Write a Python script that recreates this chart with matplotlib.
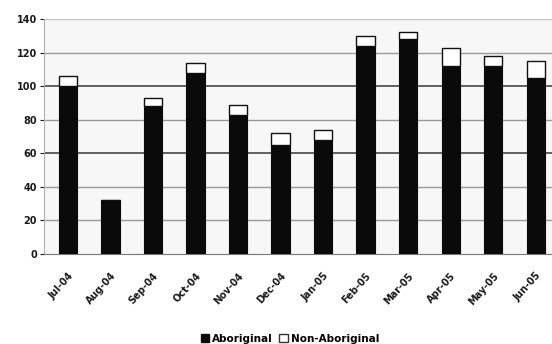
import matplotlib
matplotlib.use("Agg")
import matplotlib.pyplot as plt
from matplotlib.patches import Patch

# monthly admissions, Jul-04 to Jun-05
months = ["Jul-04", "Aug-04", "Sep-04", "Oct-04", "Nov-04", "Dec-04",
          "Jan-05", "Feb-05", "Mar-05", "Apr-05", "May-05", "Jun-05"]
aboriginal = [100, 32, 88, 108, 83, 65, 68, 124, 128, 112, 112, 105]
non_aboriginal = [6, 0, 5, 6, 6, 7, 6, 6, 4, 11, 6, 10]

y_ticks = [0, 20, 40, 60, 80, 100, 120, 140]

fig = plt.figure(figsize=(5.52, 3.44), dpi=100)
ax = fig.add_axes([44 / 552, 1 - 254 / 344, 513 / 552, 235 / 344])

x = list(range(len(months)))
bar_w = 0.43

ax.bar(x, aboriginal, width=bar_w, color="#0a0a0a", edgecolor="#0a0a0a",
       linewidth=0.8, zorder=3)
ax.bar(x, non_aboriginal, width=bar_w, bottom=aboriginal, color="white",
       edgecolor="#111111", linewidth=1.0, zorder=3)

ax.set_xlim(-0.56, 11.5)
ax.set_ylim(0, 140)
ax.set_yticks(y_ticks)
ax.set_xticks(x)
ax.set_xticklabels(months, rotation=48, ha="right", rotation_mode="anchor",
                   fontsize=7, fontweight="bold", color="#1a1a1a")
for lbl in ax.get_yticklabels():
    lbl.set_fontweight("bold")
ax.tick_params(axis="y", labelsize=7, colors="#1a1a1a", length=3, pad=2)
ax.tick_params(axis="x", length=0, pad=12)

# gridlines: darker at 60/100, lighter elsewhere
for v in y_ticks[1:]:
    if v in (60, 100):
        ax.axhline(v, color="#555555", lw=1.3, zorder=1)
    elif v == 140:
        ax.axhline(v, color="#c4c4c4", lw=1.0, zorder=1)
    else:
        ax.axhline(v, color="#9a9a9a", lw=1.0, zorder=1)

ax.set_facecolor("#f7f7f7")
for side in ["top", "right"]:
    ax.spines[side].set_visible(False)
ax.spines["left"].set_color("#b0b0b0")
ax.spines["bottom"].set_color("#777777")

handles = [Patch(facecolor="#0a0a0a", edgecolor="#0a0a0a", label="Aboriginal"),
           Patch(facecolor="white", edgecolor="#333333", label="Non-Aboriginal")]
fig.legend(handles=handles, loc="center", bbox_to_anchor=(290 / 552, 1 - 339 / 344),
           ncol=2, frameon=False, prop={"size": 7.5, "weight": "bold"},
           handlelength=0.8, handleheight=0.8,
           handletextpad=0.3, columnspacing=0.6, borderpad=0)

fig.savefig("out.png", dpi=100)
